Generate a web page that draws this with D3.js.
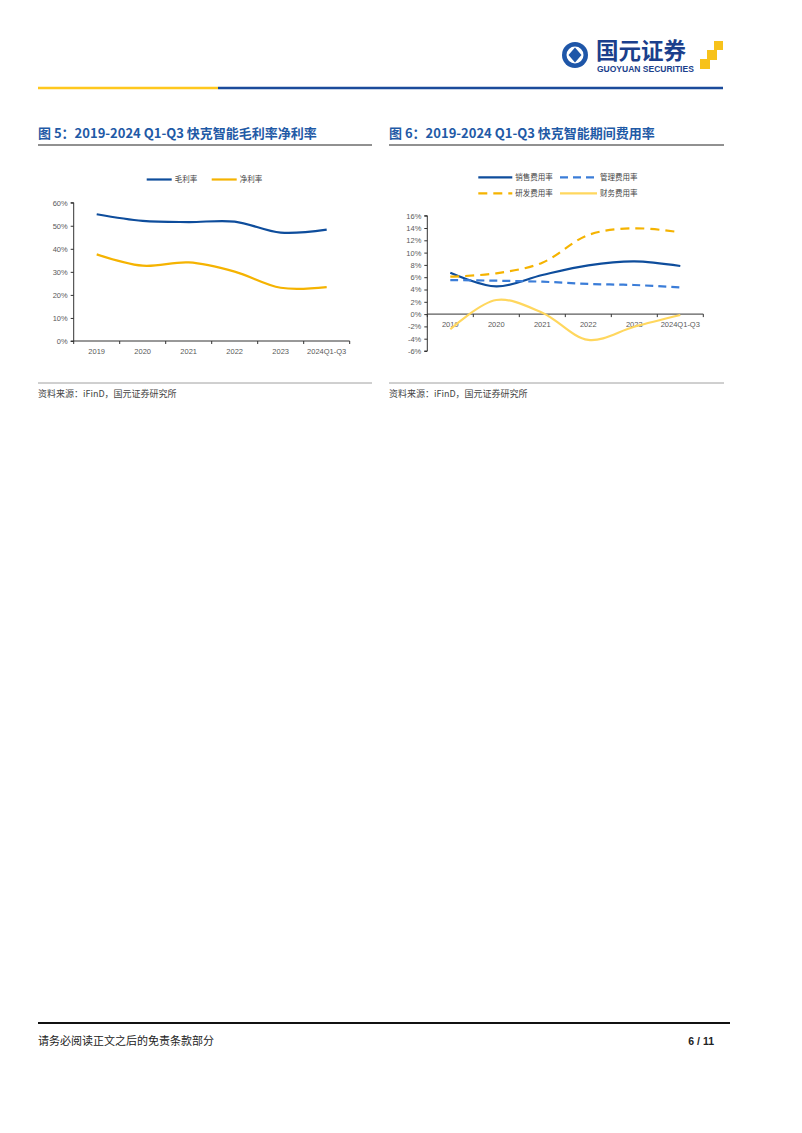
<!DOCTYPE html>
<html><head><meta charset="utf-8">
<script src="https://cdn.jsdelivr.net/npm/d3@7"></script>
<style>body{margin:0;background:#fff}svg{display:block}</style>
</head><body>
<svg id="page" width="802" height="1133"></svg>
<script>
// ---------- data ----------
const categories = ["2019","2020","2021","2022","2023","2024Q1-Q3"];
const grossMargin = [55.0, 52.1, 51.6, 51.8, 47.0, 48.3];
const netMargin   = [37.6, 32.7, 34.1, 30.1, 23.1, 23.4];
const salesExp    = [6.73, 4.5, 6.36, 7.93, 8.58, 7.82];
const adminExp    = [5.54, 5.43, 5.27, 4.9, 4.73, 4.35];
const rdExp       = [6.08, 6.63, 8.36, 12.86, 13.95, 13.3];
const finExp      = [-2.47, 2.29, 0.23, -4.2, -2.05, -0.15];
const ticks1 = [0,10,20,30,40,50,60];
const ticks2 = [-6,-4,-2,0,2,4,6,8,10,12,14,16];

const svg = d3.select("#page");
const BLUE="#0E4D9C", MBLUE="#3B7DD8", YEL="#F5B301", LYEL="#FFD75E", TBLUE="#1F5AA6";
const FONT="'Liberation Sans', Arial, sans-serif";
const CJK="'Noto Sans CJK SC', sans-serif";

// ---------- header ----------
svg.append("line").attr("x1",38).attr("x2",218).attr("y1",88).attr("y2",88).attr("stroke","#FFC81E").attr("stroke-width",2.5);
svg.append("line").attr("x1",218).attr("x2",723).attr("y1",88).attr("y2",88).attr("stroke","#1B4B9B").attr("stroke-width",2.5);
// logo
const lg = svg.append("g");
lg.append("circle").attr("cx",575).attr("cy",55).attr("r",13).attr("fill","#1E56A8");
lg.append("circle").attr("cx",575).attr("cy",55).attr("r",8.5).attr("fill","#fff");
lg.append("path").attr("d","M575,47.5 L581.5,55 L575,62.5 L568.5,55 Z").attr("fill","#1E56A8");
lg.append("text").attr("x",596).attr("y",58.5).attr("font-family",CJK).attr("font-weight",700).attr("font-size",22.5).attr("fill","#1B3F8C").text("国元证券");
lg.append("text").attr("x",597).attr("y",72).attr("font-family",FONT).attr("font-weight",700).attr("font-size",8.5).attr("fill","#1B3F8C").text("GUOYUAN SECURITIES");
[[714,41,9],[707,50,10],[700,59,10]].forEach(d=>lg.append("rect").attr("x",d[0]).attr("y",d[1]).attr("width",d[2]).attr("height",d[2]).attr("fill","#F7C21B"));

// ---------- panel helpers ----------
function panelFrame(x0, x1, title){
  svg.append("text").attr("x",x0).attr("y",138).attr("font-family",CJK).attr("font-weight",700).attr("font-size",13).attr("fill",TBLUE).text(title);
  svg.append("line").attr("x1",x0).attr("x2",x1).attr("y1",145).attr("y2",145).attr("stroke","#222").attr("stroke-width",1);
  svg.append("line").attr("x1",x0).attr("x2",x1).attr("y1",383).attr("y2",383).attr("stroke","#888").attr("stroke-width",0.8);
  svg.append("text").attr("x",x0).attr("y",397).attr("font-family",CJK).attr("font-size",9).attr("fill","#444").text("资料来源：iFinD，国元证券研究所");
}

function drawChart(opt){
  const g = svg.append("g");
  const x = d3.scaleBand().domain(categories).range([opt.left, opt.left+276]);
  const y = d3.scaleLinear().domain(opt.domain).range([opt.bottom, opt.top]);
  // y axis
  const ya = d3.axisLeft(y).tickValues(opt.ticks).tickFormat(d=>d+"%").tickSize(3).tickPadding(3);
  const yg = g.append("g").attr("transform",`translate(${opt.left},0)`).call(ya);
  yg.select(".domain").attr("stroke","#333").attr("d",`M-3,${opt.top}H0V${opt.bottom}H-3`);
  yg.selectAll("line").attr("stroke","#333");
  yg.selectAll("text").attr("font-family",FONT).attr("font-size",7.5).attr("fill","#595959");
  // x axis
  const y0 = y(0);
  const xa = g.append("g").attr("transform",`translate(0,${y0})`);
  xa.append("line").attr("x1",opt.left).attr("x2",opt.left+276).attr("stroke","#333");
  d3.range(7).forEach(i=>{
    const xx = opt.left + i*x.step();
    xa.append("line").attr("x1",xx).attr("x2",xx).attr("y1",0).attr("y2",3).attr("stroke","#333");
  });
  categories.forEach(c=>{
    g.append("text").attr("x",x(c)+x.bandwidth()/2).attr("y",opt.labelY).attr("text-anchor","middle")
      .attr("font-family",FONT).attr("font-size",7.5).attr("fill","#595959").text(c);
  });
  const line = d3.line().x((d,i)=>x(categories[i])+x.bandwidth()/2).y(d=>y(d)).curve(d3.curveCatmullRom.alpha(0.5));
  opt.series.forEach(s=>{
    g.append("path").attr("d",line(s.values)).attr("fill","none").attr("stroke",s.color)
      .attr("stroke-width",s.w||2.2).attr("stroke-dasharray",s.dash||null);
  });
  // legend
  opt.series.forEach(s=>{
    g.append("line").attr("x1",s.lx).attr("x2",s.lx+s.ll).attr("y1",s.ly).attr("y2",s.ly)
      .attr("stroke",s.color).attr("stroke-width",s.w||2.2).attr("stroke-dasharray",s.dash||null);
    g.append("text").attr("x",s.lx+s.ll+3).attr("y",s.ly+2.8).attr("font-family",CJK).attr("font-size",7.5).attr("fill","#444").text(s.name);
  });
}

panelFrame(38, 372, "图 5：2019-2024 Q1-Q3 快克智能毛利率净利率");
panelFrame(389, 724, "图 6：2019-2024 Q1-Q3 快克智能期间费用率");

drawChart({left:73.7, top:202.7, bottom:341, domain:[0,60], ticks:ticks1, labelY:354,
  series:[
    {name:"毛利率", values:grossMargin, color:BLUE, lx:146.7, ll:25, ly:179.5},
    {name:"净利率", values:netMargin, color:YEL, lx:211.7, ll:25, ly:179.5}
  ]});

drawChart({left:427.3, top:215.7, bottom:351, domain:[-6,16], ticks:ticks2, labelY:327,
  series:[
    {name:"销售费用率", values:salesExp, color:BLUE, lx:478.3, ll:34, ly:177.3},
    {name:"管理费用率", values:adminExp, color:MBLUE, dash:"8,5", lx:560, ll:37, ly:177.3},
    {name:"研发费用率", values:rdExp, color:YEL, dash:"9,6", lx:478.3, ll:34, ly:193.3},
    {name:"财务费用率", values:finExp, color:LYEL, lx:560, ll:37, ly:193.3}
  ]});

// ---------- footer ----------
svg.append("line").attr("x1",38).attr("x2",730).attr("y1",1023).attr("y2",1023).attr("stroke","#111").attr("stroke-width",1.8);
svg.append("text").attr("x",38).attr("y",1045).attr("font-family",CJK).attr("font-size",11).attr("fill","#222").text("请务必阅读正文之后的免责条款部分");
svg.append("text").attr("x",714).attr("y",1045).attr("text-anchor","end").attr("font-family",FONT).attr("font-weight",700).attr("font-size",10.5).attr("fill","#222").text("6 / 11");
</script>
</body></html>
